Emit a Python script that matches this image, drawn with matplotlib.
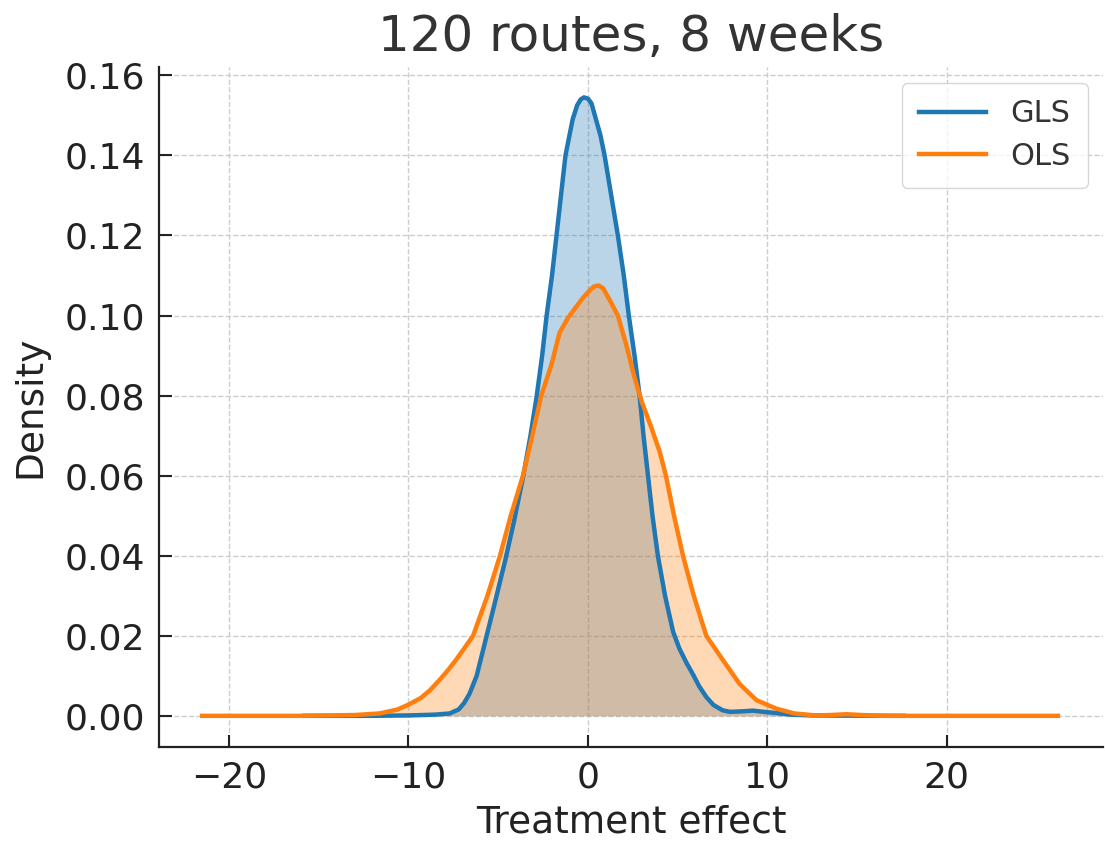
import numpy as np
import matplotlib
matplotlib.use("Agg")
import matplotlib.pyplot as plt

# density curves (treatment effect, density)
gls_x = [-15.8, -12.0, -10.0, -8.5, -7.7, -7.2, -6.9, -6.6, -6.2, -5.7, -5.2, -4.6, -4.1,
         -3.6, -3.2, -2.85, -2.55, -2.3, -2.0, -1.75, -1.5, -1.25, -1.05, -0.85, -0.6, -0.4,
         -0.22, 0.0, 0.2, 0.45, 0.7, 0.93, 1.3, 1.67, 2.0, 2.28, 2.6, 2.88, 3.1, 3.35, 3.6,
         3.9, 4.3, 4.75, 5.1, 5.5, 5.9, 6.2, 6.6, 7.0, 7.5, 7.9, 8.5, 9.2, 9.8, 10.5,
         11.3, 12.5, 14.0, 17.6]
gls_y = [0.0, 0.0, 0.0001, 0.0003, 0.0006, 0.0016, 0.0032, 0.0055, 0.010, 0.019, 0.028, 0.039, 0.049,
         0.060, 0.070, 0.080, 0.090, 0.100, 0.110, 0.120, 0.130, 0.140, 0.1445, 0.149, 0.1525, 0.1540,
         0.1545, 0.1542, 0.1530, 0.149, 0.145, 0.140, 0.130, 0.120, 0.110, 0.100, 0.090, 0.080, 0.070,
         0.060, 0.050, 0.040, 0.030, 0.021, 0.0168, 0.0132, 0.0100, 0.0074, 0.0047, 0.0027, 0.0014,
         0.0010, 0.0011, 0.0013, 0.0010, 0.0007, 0.0003, 0.0001, 0.00005, 0.0]

ols_x = [-21.5, -16.0, -13.0, -11.6, -10.6, -10.0, -9.3, -8.8, -8.26, -7.8, -7.33, -6.9, -6.4,
         -5.6, -4.9, -4.3, -3.62, -3.1, -2.6, -2.04, -1.58, -1.1, -0.6, -0.28, 0.1, 0.35, 0.6,
         0.85, 1.2, 1.67, 2.14, 2.6, 3.0, 3.5, 4.0, 4.35, 4.8, 5.3, 5.9, 6.6, 7.5, 8.45, 9.4,
         10.5, 11.5, 12.7, 13.5, 14.4, 15.3, 16.5, 20.0, 26.2]
ols_y = [0.0, 0.0, 0.0002, 0.0006, 0.0016, 0.0028, 0.0045, 0.0064, 0.009, 0.0114, 0.0141, 0.0168,
         0.020, 0.030, 0.040, 0.050, 0.060, 0.070, 0.080, 0.0876, 0.0957, 0.0995, 0.1025, 0.1044,
         0.1063, 0.1073, 0.1075, 0.1068, 0.104, 0.100, 0.0927, 0.0845, 0.0785, 0.0725, 0.066, 0.060,
         0.050, 0.040, 0.030, 0.020, 0.0141, 0.008, 0.0039, 0.0018, 0.0006, 0.0001, 0.0002, 0.0004,
         0.0002, 0.0, 0.0, 0.0]

title = "120 routes, 8 weeks"

fig = plt.figure(figsize=(11.05, 8.42), dpi=100)
ax = fig.add_axes([0.144, 0.113, 0.854, 0.807])

ax.plot(gls_x, gls_y, color="#1f77b4", lw=3.2, label="GLS", zorder=3, solid_joinstyle="round")
ax.fill_between(gls_x, gls_y, color="#1f77b4", alpha=0.3, lw=0)
ax.plot(ols_x, ols_y, color="#ff7f0e", lw=3.2, label="OLS", zorder=3, solid_joinstyle="round")
ax.fill_between(ols_x, ols_y, color="#ff7f0e", alpha=0.3, lw=0)

ax.set_xlim(-23.9, 28.7)
ax.set_ylim(-0.00775, 0.162)
ax.set_xticks([-20, -10, 0, 10, 20])
ax.set_yticks(np.arange(0, 0.161, 0.02))
ax.yaxis.set_major_formatter(matplotlib.ticker.FormatStrFormatter("%.2f"))

ax.grid(True, linestyle="--", color="#cccccc", lw=1)
ax.set_axisbelow(True)
for s in ["top", "right"]:
    ax.spines[s].set_visible(False)
for s in ["left", "bottom"]:
    ax.spines[s].set_linewidth(1.6)
    ax.spines[s].set_color("#222222")

ax.tick_params(direction="in", length=9, width=1.5, labelsize=26, colors="#222222", pad=10)

ax.set_title(title, fontsize=36, color="#333333", pad=12)
ax.set_xlabel("Treatment effect", fontsize=27, color="#222222", labelpad=7)
ax.set_ylabel("Density", fontsize=27, color="#222222", labelpad=12)

leg = ax.legend(loc="upper right", fontsize=22, handlelength=2.2, borderpad=0.55,
                labelspacing=0.45, fancybox=True, edgecolor="#cccccc")
for t in leg.get_texts():
    t.set_color("#333333")

fig.savefig("out.png", dpi=100)
